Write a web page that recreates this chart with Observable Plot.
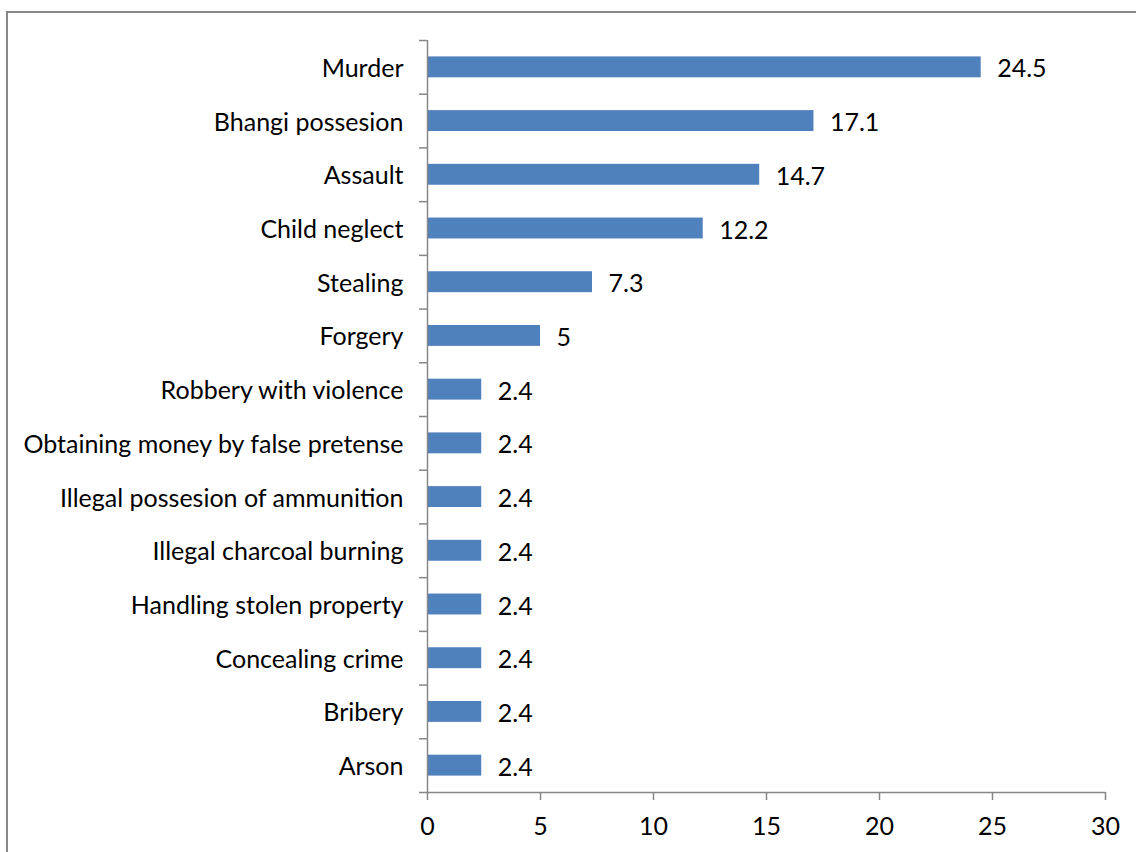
<!DOCTYPE html>
<html>
<head>
<meta charset="utf-8">
<script src="https://cdn.jsdelivr.net/npm/d3@7"></script>
<script src="https://cdn.jsdelivr.net/npm/@observablehq/plot@0.6"></script>
<style>
  html, body { margin: 0; padding: 0; background: #fff; overflow: hidden; }
  #wrap { position: relative; width: 1136px; height: 852px; }
  #border { position: absolute; left: 6px; top: 11px; width: 1200px; height: 900px;
            border-left: 2px solid #878787; border-top: 2px solid #878787; box-sizing: border-box; pointer-events: none; }
  svg { font-family: Lato, sans-serif; }
</style>
</head>
<body>
<div id="wrap"><div id="border"></div><div id="chart"></div></div>
<script>
const categories = [
  "Murder", "Bhangi possesion", "Assault", "Child neglect", "Stealing", "Forgery",
  "Robbery with violence", "Obtaining money by false pretense", "Illegal possesion of ammunition",
  "Illegal charcoal burning", "Handling stolen property", "Concealing crime", "Bribery", "Arson"
];
const values = [24.5, 17.1, 14.7, 12.2, 7.3, 5, 2.4, 2.4, 2.4, 2.4, 2.4, 2.4, 2.4, 2.4];
const xTicks = [0, 5, 10, 15, 20, 25, 30];

const data = categories.map((c, i) => ({category: c, value: values[i]}));

const W = 1136, H = 852;
const mTop = 40, mBottom = 60, mLeft = 427, mRight = 31;
const step = (H - mTop - mBottom) / categories.length;
const tickLen = 8 * 30 / (W - mLeft - mRight); // 8px in data units
const axisColor = "#878787";
const barColor = "#4F81BD";
const fs = 25;

const chart = Plot.plot({
  width: W,
  height: H,
  marginTop: mTop,
  marginBottom: mBottom,
  marginLeft: mLeft,
  marginRight: mRight,
  style: {fontFamily: "Lato, sans-serif", fontSize: fs + "px", color: "#000", background: "transparent"},
  x: {domain: [0, 30], ticks: xTicks},
  y: {domain: categories, padding: 0, round: false},
  marks: [
    Plot.barX(data, {x: "value", y: "category", fill: barColor, insetTop: 16.4, insetBottom: 16.4}),
    Plot.text(data, {x: "value", y: "category", text: d => String(d.value), textAnchor: "start", dx: 16, dy: 2, fontSize: fs, fill: "#000"}),
    // y-axis line
    Plot.ruleX([0], {stroke: axisColor, strokeWidth: 1.5}),
    // band-boundary ticks on the y axis
    Plot.ruleY(categories, {y: d => d, x1: -tickLen, x2: 0, dy: -step / 2, stroke: axisColor, strokeWidth: 1.5}),
    // bottom axis line with last boundary tick
    Plot.ruleY([categories[categories.length - 1]], {y: d => d, x1: -tickLen, x2: 30, dy: step / 2, stroke: axisColor, strokeWidth: 1.5}),
    Plot.axisX({anchor: "bottom", ticks: xTicks, tickSize: 8, tickPadding: 17, stroke: axisColor, strokeWidth: 1.5, fontSize: fs, fill: "#000", label: null, tickFormat: d => String(d)}),
    Plot.axisY({anchor: "left", tickSize: 0, tickPadding: 24, dy: 1.5, fontSize: fs, fill: "#000", label: null})
  ]
});
document.getElementById("chart").appendChild(chart);
</script>
</body>
</html>
